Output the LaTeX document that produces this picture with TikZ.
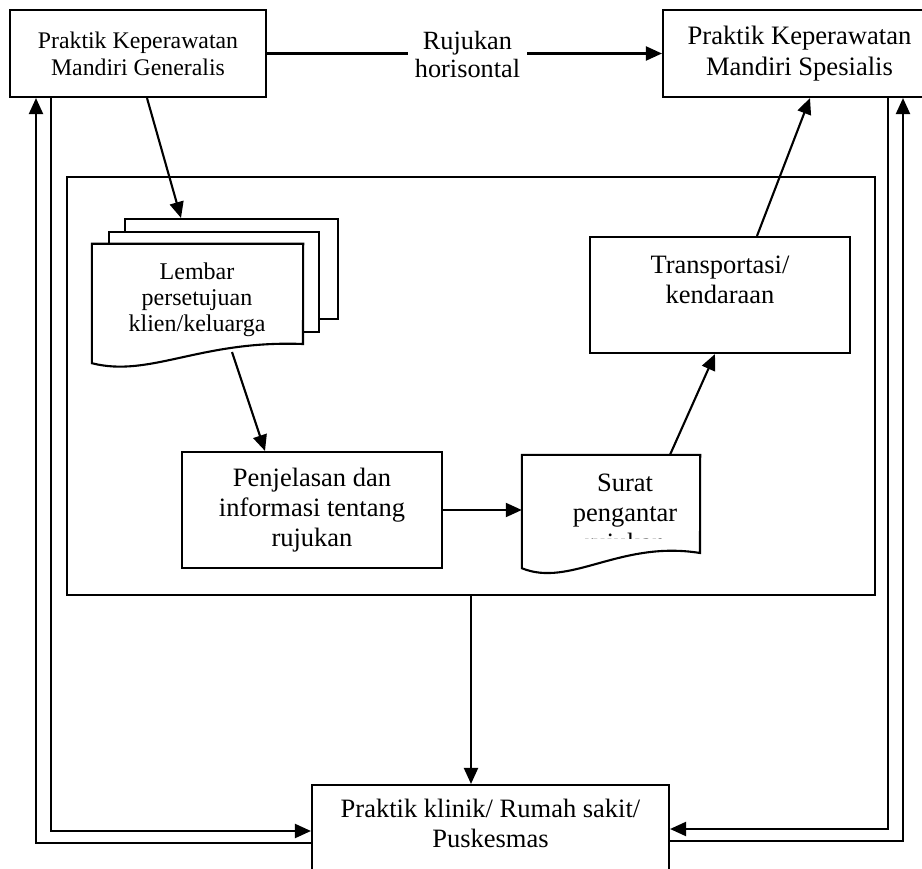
\documentclass[tikz,border=0pt]{standalone}
\usepackage{fontspec}
\setmainfont{Liberation Serif}
\usetikzlibrary{arrows.meta,calc}
\begin{document}
\begin{tikzpicture}[x=1pt,y=-1pt,
  ln/.style={line width=2.1pt},
  arr/.style={ln,-{Triangle[length=16pt,width=14pt]}},
  boxn/.style={draw,line width=2.1pt,fill=white,inner sep=0pt,align=center,font=\fontsize{26.5}{30}\selectfont},
  sheet/.style={draw,line width=2.1pt,fill=white,inner sep=0pt},
  hid/.style={draw=none,inner sep=0pt},
  txt/.style={inner sep=0pt,align=center,font=\fontsize{26.5}{30}\selectfont}]
\useasboundingbox (0,0) rectangle (922,869);
\clip (0,0) rectangle (922,869);

% top boxes
\node[boxn, minimum width=256pt, minimum height=87pt, font=\fontsize{23.8}{27}\selectfont] (A) at (138,53.5) {Praktik Keperawatan\\Mandiri Generalis};
\node[boxn, minimum width=273pt, minimum height=87pt, font=\fontsize{26.6}{31}\selectfont] (B) at (799.5,53.5) {Praktik Keperawatan\\Mandiri Spesialis};

% container
\node[draw, ln, minimum width=808pt, minimum height=418pt, inner sep=0pt] (cont) at (471,386) {};

% bottom box
\node[boxn, minimum width=357pt, minimum height=92pt] (C) at (490.5,831) {Praktik klinik/ Rumah sakit/\\Puskesmas\rule[-15pt]{0pt}{15pt}};

% document stack
\node[sheet, minimum width=213pt, minimum height=100pt] (back) at (231.5,269) {};
\node[sheet, minimum width=210pt, minimum height=100pt] (mid) at (214,282) {};
\node[hid, minimum width=211pt, minimum height=119pt] (front) at (197.5,303.5) {};
\draw[ln, fill=white] (front.north west) -- (front.north east) -- (303,344)
   .. controls (200,340) and (150,378) .. (front.south west) -- cycle;
\node[txt, font=\fontsize{24}{26}\selectfont] (lembar) at (197,300) {Lembar\\persetujuan\\klien/keluarga};
\coordinate (fbot) at (232,352);

% Penjelasan box
\node[boxn, minimum width=260pt, minimum height=116pt] (P) at (312,510) {Penjelasan dan\\informasi tentang\\rujukan};

% Surat document
\node[hid, minimum width=178pt, minimum height=113pt] (S) at (611,511.5) {};
\draw[ln, fill=white] (S.south west) -- (S.north west) -- (S.north east) -- (700,553)
   .. controls (620,540) and (570,588) .. (S.south west) -- cycle;
\begin{scope}
  \clip (522,455) rectangle (700,538);
  \node[txt] (Stxt) at (625,516) {Surat\\pengantar\\rujukan};
\end{scope}

% Transportasi box
\node[boxn, minimum width=260pt, minimum height=116pt] (T) at (720,295) {Transportasi/\\kendaraan\\~};

% connectors
\draw[arr] (A.east) -- (B.west);
\node[txt, fill=white, inner xsep=7pt, font=\fontsize{26.3}{28}\selectfont] (lbl) at (467.5,55) {Rujukan\\horisontal};

\draw[arr] ([xshift=9pt]A.south) -- ([xshift=-50.5pt]back.north);
\draw[arr] (fbot) -- ([xshift=-47pt]P.north);
\draw[arr] (P.east) -- (P.east -| S.west);
\draw[arr] ([xshift=59pt]S.north) -- ([xshift=-5pt]T.south);
\draw[arr] ([xshift=37pt]T.north) -- ([xshift=10.5pt]B.south);
\draw[arr] (cont.south) -- (cont.south |- C.north);

\draw[arr] ([xshift=-87pt]A.south) |- (C.west);
\draw[arr] ([yshift=-12pt]C.west) -| ([xshift=-102pt]A.south);
\draw[arr] ([xshift=88.5pt]B.south) |- ([yshift=2pt]C.east);
\draw[arr] ([yshift=-10pt]C.east) -| ([xshift=103.5pt]B.south);
\end{tikzpicture}
\end{document}
